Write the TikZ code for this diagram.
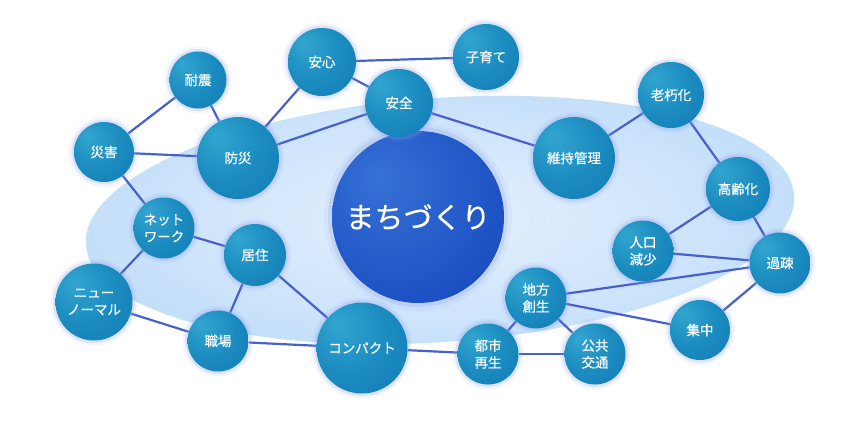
\documentclass[tikz,border=0pt]{standalone}
\usepackage{fontspec}
\newfontfamily\jpfont[FakeBold=0.5]{Noto Sans CJK JP}
\usepackage{xcolor}
\usepackage{tikz}
\usetikzlibrary{backgrounds}
\definecolor{ballhi}{RGB}{50,166,208}
\definecolor{ballmid}{RGB}{28,140,192}
\definecolor{balllo}{RGB}{10,112,174}
\definecolor{corehi}{RGB}{54,114,214}
\definecolor{coremid}{RGB}{30,82,196}
\definecolor{corelo}{RGB}{8,54,170}
\definecolor{linkblue}{RGB}{72,96,204}
\definecolor{halo}{RGB}{140,160,235}
\definecolor{fieldin}{RGB}{230,241,253}
\definecolor{fieldout}{RGB}{196,223,250}
\pgfdeclareradialshading{ballshade}{\pgfpoint{-14bp}{14bp}}{color(0bp)=(ballhi); color(22bp)=(ballmid); color(56bp)=(balllo)}
\pgfdeclareradialshading{coreshade}{\pgfpoint{-12bp}{12bp}}{color(0bp)=(corehi); color(30bp)=(coremid); color(62bp)=(corelo)}
\tikzset{
	ball/.style={circle, inner sep=0pt, shade, shading=ballshade, text=white,
		align=center, font=\jpfont\fontsize{13.5}{17}\selectfont,
		preaction={draw=halo, line width=10pt, draw opacity=0.10},
		preaction={draw=halo, line width=5pt, draw opacity=0.22}},
	link/.style={draw=linkblue, line width=2.2pt}
}

\begin{document}
\begin{tikzpicture}[x=1pt, y=-1pt,
			core/.style={circle, inner sep=0pt, shade, shading=coreshade, text=white,
				font=\jpfont\fontsize{29}{34}\selectfont,
				preaction={draw=halo, line width=16pt, draw opacity=0.10},
				preaction={draw=halo, line width=8pt, draw opacity=0.22}},
			]
			\useasboundingbox (0,0) rectangle (850,420);
			
			%% -- Centre
			\node[core, minimum size=172pt] (machi) at (418,217) {まちづくり};
			
			%% -- Upper left: disaster side
			\node[ball, minimum size=57pt] (taishin) at (198,80) {耐震};
			\node[ball, minimum size=60pt] (saigai) at (104,152) {災害};
			\node[ball, minimum size=82pt] (bousai) at (238,158) {防災};
			\node[ball, minimum size=68pt] (anshin) at (322,62) {安心};
			\node[ball, minimum size=66pt] (kosodate) at (486,57) {子育て};
			\node[ball, minimum size=68pt] (anzen) at (399,103) {安全};
			
			%% -- Right: ageing side
			\node[ball, minimum size=82pt] (iji) at (574,158) {維持管理};
			\node[ball, minimum size=66pt] (rokyu) at (671,95) {老朽化};
			\node[ball, minimum size=64pt] (koreika) at (738,189) {高齢化};
			\node[ball, minimum size=61pt] (jinko) at (643,251) {人口\\減少};
			\node[ball, minimum size=61pt] (kaso) at (780,263) {過疎};
			\node[ball, minimum size=60pt] (shuchu) at (700,330) {集中};
			
			%% -- Lower left: living and working
			\node[ball, minimum size=61pt] (network) at (164,228) {ネット\\ワーク};
			\node[ball, minimum size=62pt] (kyoju) at (255,255) {居住};
			\node[ball, minimum size=77pt] (newnormal) at (94,302) {ニュー\\ノーマル};
			\node[ball, minimum size=61pt] (shokuba) at (218,341) {職場};
			
			%% -- Bottom: city structure
			\node[ball, minimum size=91pt] (compact) at (362,348) {コンパクト};
			\node[ball, minimum size=61pt] (toshi) at (488,354) {都市\\再生};
			\node[ball, minimum size=61pt] (kokyo) at (595,354) {公共\\交通};
			\node[ball, minimum size=61pt] (chiho) at (536,298) {地方\\創生};
			
			%% -- Field and links, behind the balls
			\begin{scope}[on background layer]
				\shade[inner color=fieldin, outer color=fieldout,
				rotate around={4:(440,220)}]
				(440,220) ellipse [x radius=355pt, y radius=122pt];
				
				\draw[link] (taishin) -- (saigai);
				\draw[link] (taishin) -- (bousai);
				\draw[link] (saigai) -- (bousai);
				\draw[link] (saigai) -- (network);
				\draw[link] (bousai) -- (anshin);
				\draw[link] (bousai) -- (anzen);
				\draw[link] (anshin) -- (kosodate);
				\draw[link] (anshin) -- (anzen);
				\draw[link] (anzen) -- (iji);
				\draw[link] (iji) -- (rokyu);
				\draw[link] (rokyu) -- (koreika);
				\draw[link] (koreika) -- (jinko);
				\draw[link] (koreika) -- (kaso);
				\draw[link] (jinko) -- (kaso);
				\draw[link] (chiho) -- (kaso);
				\draw[link] (kaso) -- (shuchu);
				\draw[link] (chiho) -- (shuchu);
				\draw[link] (chiho) -- (toshi);
				\draw[link] (chiho) -- (kokyo);
				\draw[link] (toshi) -- (kokyo);
				\draw[link] (compact) -- (toshi);
				\draw[link] (kyoju) -- (compact);
				\draw[link] (shokuba) -- (compact);
				\draw[link] (kyoju) -- (shokuba);
				\draw[link] (network) -- (kyoju);
				\draw[link] (network) -- (newnormal);
				\draw[link] (newnormal) -- (shokuba);
			\end{scope}
			
		\end{tikzpicture}
\end{document}
